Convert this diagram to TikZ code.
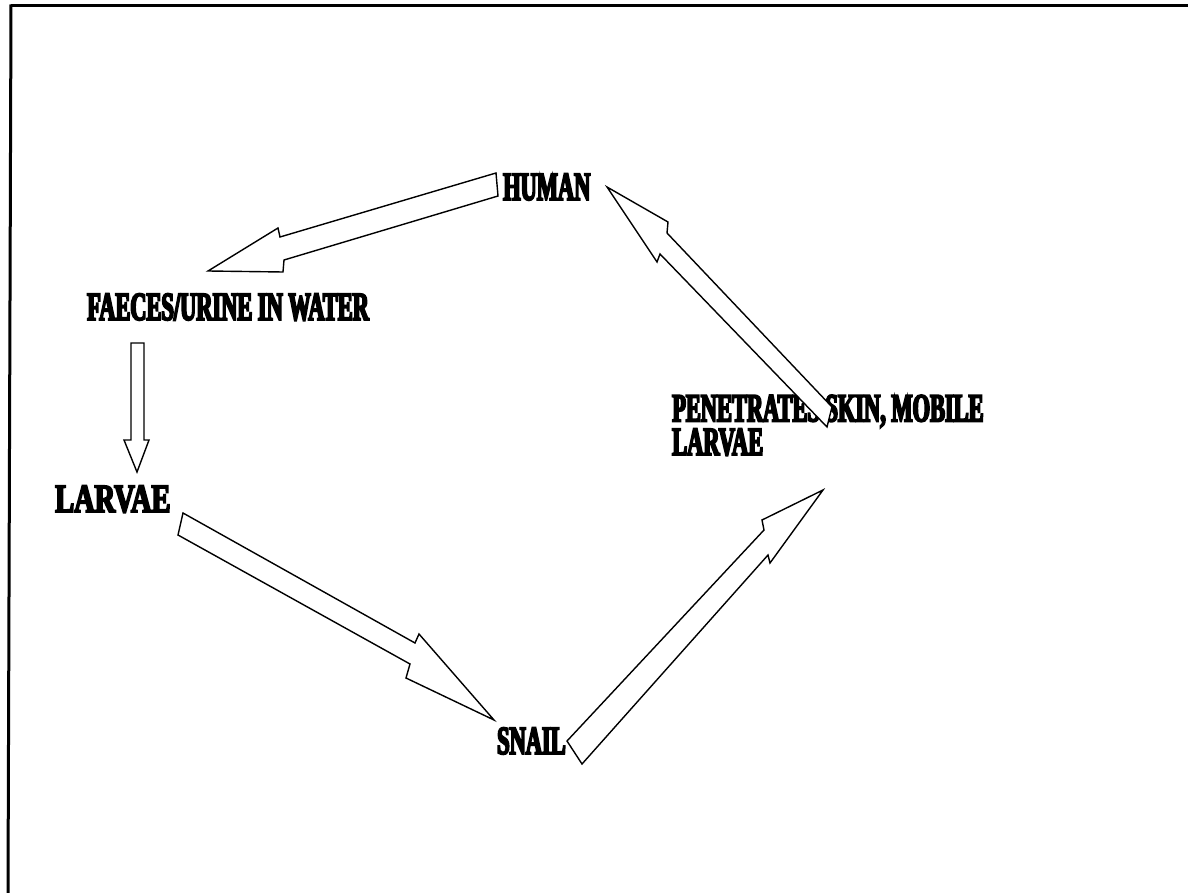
\documentclass[tikz,border=0pt]{standalone}
\usepackage{fontspec}
\newfontfamily\lblfont{Liberation Serif Bold}[FakeStretch=0.56,FakeBold=4.5]
\newfontfamily\lblwide{Liberation Serif Bold}[FakeStretch=0.71,FakeBold=4.5]
\begin{document}
\begin{tikzpicture}[x=1pt,y=-1pt,
  lbl/.style={font=\lblfont\fontsize{40}{30}\selectfont, inner sep=0pt, anchor=base west, align=left},
  lblw/.style={font=\lblwide\fontsize{40}{30}\selectfont, inner sep=0pt, anchor=base west},
  blk/.style={draw=black, line width=1.4pt, fill=white, line join=miter},
  frame/.style={line width=3pt, line cap=butt}]
\fill[white] (0,0) rectangle (1188,893);
\useasboundingbox (0,0) rectangle (1188,893);
\draw[frame] (11,6) -- (1188,6);
\draw[frame] (11,4.5) -- (8,893);
% labels
\node[lbl]  (human)  at (503,200) {HUMAN};
\node[lbl]  (faeces) at (87,320)  {FAECES/URINE IN WATER};
\node[lblw] (larvae) at (55,512)  {LARVAE};
\node[lbl]  (snail)  at (497,754) {SNAIL};
\node[lbl]  (pen)    at (672,455) {PENETRATES SKIN, MOBILE\\LARVAE};
% block arrows
% human -> faeces
\draw[blk] (496,173) -- (280,237) -- (278,228) -- (208,271) -- (283,272) -- (284,260) -- (498,196) -- cycle;
% faeces -> larvae
\draw[blk] (131,343) -- (144,343) -- (144,440) -- (149,440) -- (137,472) -- (124,440) -- (131,440) -- cycle;
% larvae -> snail
\draw[blk] (183,513) -- (415,643) -- (419,634) -- (494,720) -- (406,678) -- (410,664) -- (178,535) -- cycle;
% snail -> penetrates
\draw[blk] (823,490) -- (762,520) -- (764,530) -- (567,741) -- (582,764) -- (768,555) -- (770,563) -- cycle;
% penetrates -> human
\draw[blk] (607,187) -- (668,222) -- (667,233) -- (832,407) -- (827,427) -- (660,254) -- (657,262) -- cycle;
\end{tikzpicture}
\end{document}
